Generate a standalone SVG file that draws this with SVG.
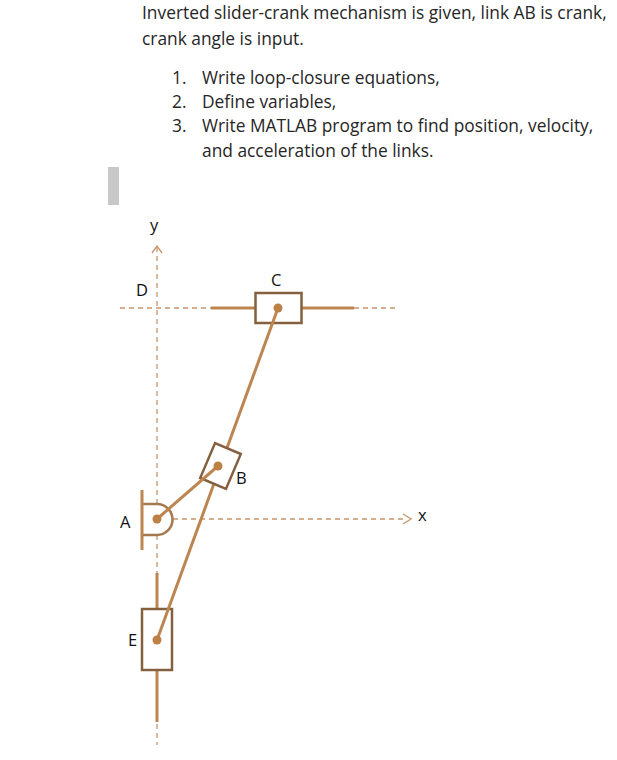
<svg xmlns="http://www.w3.org/2000/svg" width="617" height="760" viewBox="0 0 617 760">
<style>
text{font-family:"Open Sans","Noto Sans","Liberation Sans",sans-serif;fill:#262626}
.b{font-size:17.35px}
.l{font-size:16.5px;fill:#111}
.dash{stroke:#c89468;stroke-width:1.3;stroke-dasharray:5 4;fill:none}
.rod{stroke:#bd8550;stroke-width:3;fill:none}
.box{stroke:#84603f;stroke-width:2.5;fill:#fff}
.pin{fill:#bd8045}
</style>
<rect width="617" height="760" fill="#fff"/>
<g id="prose">
<text class="b" x="142" y="18.700">Inverted slider-crank mechanism is given, link AB is crank,</text>
<text class="b" x="142" y="44.500">crank angle is input.</text>
<text class="b" x="172" y="83.500">1.</text><text class="b" x="202" y="83.500">Write loop-closure equations,</text>
<text class="b" x="172" y="107.500">2.</text><text class="b" x="202" y="107.500">Define variables,</text>
<text class="b" x="172" y="132">3.</text><text class="b" x="202" y="132">Write MATLAB program to find position, velocity,</text>
<text class="b" x="202" y="156.500">and acceleration of the links.</text>
</g>
<rect x="108" y="167" width="11" height="38" fill="#c8c8c8"/>
<g id="connectors">
<path class="dash" d="M157 247V745"/>
<path class="dash" d="M152 253L157 246L162 253" style="stroke-dasharray:none"/>
<path class="dash" d="M120 308H211M354 308H398"/>
<path class="dash" d="M173 519H405"/>
<path class="dash" d="M403 514L411 519L403 524" style="stroke-dasharray:none"/>
<path class="rod" d="M211 308H255M302 308H354"/>
<path class="rod" d="M157 573V609M157 670V722"/>
</g>
<g id="node-A">
<path d="M142 504H157A15 15 0 0 1 157 535H142" fill="#fff" stroke="#a5794f" stroke-width="2.5"/>
<path class="rod" d="M142 490V550"/>
</g>
<g id="node-E"><rect class="box" x="142" y="609" width="30" height="61"/></g>
<g id="node-C"><rect class="box" x="255.500" y="293" width="46" height="30"/></g>
<g id="links">
<path class="rod" d="M157 640L278 308"/>
</g>
<g id="node-B"><rect class="box" x="-14" y="-19" width="28" height="38" transform="translate(220.500 466) rotate(23)"/></g>
<g id="link-AB">
<path class="rod" d="M157 519L218 466"/>
</g>
<g id="pins">
<circle class="pin" cx="278" cy="308" r="4.500"/>
<circle class="pin" cx="218" cy="466" r="4.500"/>
<circle class="pin" cx="157" cy="519" r="4.500"/>
<circle class="pin" cx="157" cy="640" r="4.500"/>
</g>
<g id="labels">
<text class="l" x="150" y="231">y</text>
<text class="l" x="136" y="296">D</text>
<text class="l" x="271" y="286">C</text>
<text class="l" x="236" y="484">B</text>
<text class="l" x="120" y="528">A</text>
<text class="l" x="128" y="646">E</text>
<text class="l" x="418" y="521">x</text>
</g>
</svg>
